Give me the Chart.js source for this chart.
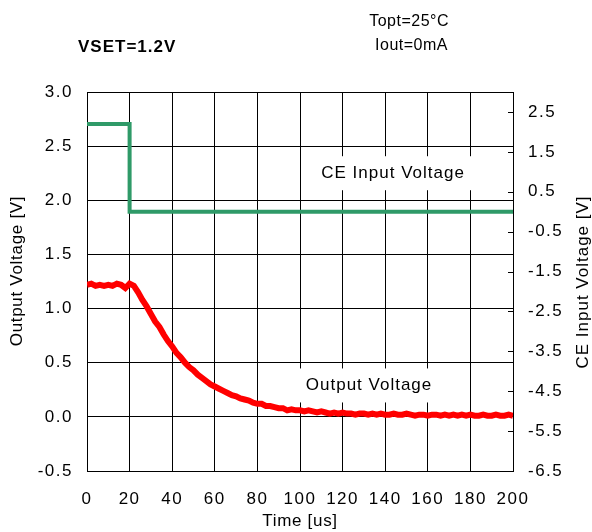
<!DOCTYPE html>
<html lang="en">
<head>
<meta charset="UTF-8">
<title>VSET=1.2V CE off</title>
<script src="https://cdn.jsdelivr.net/npm/chart.js@4.4.0/dist/chart.umd.min.js"></script>
<style>
  body { margin: 0; background: #fff; }
  #wrap { width: 592px; height: 532px; }
</style>
</head>
<body>
<div id="wrap"><canvas id="myChart" width="592" height="532"></canvas></div>
<script>
// time axis [us]
var timeUs = [0,2,4,6,8,10,12,14,16,18,20,22,24,26,28,30,32,34,36,38,
  40,42,44,46,48,50,52,54,56,58,60,62,64,66,68,70,72,74,76,78,
  80,82,84,86,88,90,92,94,96,98,100,102,104,106,108,110,112,114,116,118,
  120,122,124,126,128,130,132,134,136,138,140,142,144,146,148,150,152,154,156,158,
  160,162,164,166,168,170,172,174,176,178,180,182,184,186,188,190,192,194,196,198,200];

// output voltage [V], left axis
var outputV = [1.22,1.23,1.21,1.22,1.21,1.22,1.21,1.23,1.22,1.19,1.23,1.21,1.15,1.08,1.02,0.95,0.88,0.83,0.76,0.70,
  0.65,0.59,0.55,0.50,0.46,0.43,0.39,0.36,0.33,0.30,0.28,0.26,0.24,0.22,0.20,0.19,0.17,0.16,0.15,0.13,
  0.12,0.12,0.10,0.10,0.09,0.08,0.08,0.06,0.07,0.06,0.06,0.05,0.06,0.05,0.04,0.05,0.04,0.03,0.04,0.03,
  0.04,0.03,0.03,0.02,0.03,0.03,0.02,0.03,0.02,0.03,0.02,0.02,0.03,0.02,0.02,0.03,0.02,0.01,0.02,0.02,
  0.01,0.02,0.02,0.01,0.02,0.01,0.02,0.01,0.02,0.01,0.02,0.01,0.01,0.02,0.01,0.01,0.02,0.01,0.01,0.02,0.01];

// CE input voltage [V], right axis
var ceTimeUs = [0, 20, 20, 200];
var ceV = [2.2, 2.2, 0, 0];

// tick labels
var xTicks = [0,20,40,60,80,100,120,140,160,180,200];
var leftTicks = [-0.5,0,0.5,1.0,1.5,2.0,2.5,3.0];
var rightTicks = [-6.5,-5.5,-4.5,-3.5,-2.5,-1.5,-0.5,0.5,1.5,2.5];

function toPoints(xs, ys) {
  var pts = [];
  for (var i = 0; i < xs.length; i++) pts.push({x: xs[i], y: ys[i]});
  return pts;
}

var FONT = "'Liberation Sans', Arial, sans-serif";

// boxed labels and header text
var textPlugin = {
  id: 'texts',
  beforeDraw: function(chart) {
    // wider spacing for the tick labels
    chart.ctx.letterSpacing = '1.5px';
  },
  beforeDatasetsDraw: function(chart) {
    var ctx = chart.ctx, x = chart.scales.x, y = chart.scales.y;
    ctx.letterSpacing = '0px';
    var labels = [
      {text: 'CE Input Voltage', tx: 143.7, ty: 2.25, padX: 14, padY: 17},
      {text: 'Output Voltage', tx: 132.4, ty: 0.29, padX: 6, padY: 17}
    ];
    ctx.save();
    ctx.font = '17px ' + FONT;
    ctx.letterSpacing = '1px';
    ctx.textAlign = 'center';
    ctx.textBaseline = 'middle';
    labels.forEach(function(l) {
      var px = x.getPixelForValue(l.tx), py = y.getPixelForValue(l.ty);
      var w = ctx.measureText(l.text).width;
      ctx.fillStyle = '#fff';
      ctx.fillRect(px - w / 2 - l.padX, py - l.padY, w + 2 * l.padX, 2 * l.padY);
      ctx.fillStyle = '#000';
      ctx.fillText(l.text, px, py);
    });
    ctx.restore();
  },
  afterDraw: function(chart) {
    var ctx = chart.ctx, a = chart.chartArea, r = chart.scales.y2;
    ctx.save();
    // inward ticks on right axis
    ctx.strokeStyle = '#000';
    ctx.lineWidth = 1;
    r.ticks.forEach(function(t) {
      var py = Math.round(r.getPixelForValue(t.value)) + 0.5;
      ctx.beginPath();
      ctx.moveTo(a.right - 5, py);
      ctx.lineTo(a.right, py);
      ctx.stroke();
    });
    ctx.fillStyle = '#000';
    ctx.textBaseline = 'middle';
    ctx.font = 'bold 17px ' + FONT;
    ctx.letterSpacing = '1px';
    ctx.textAlign = 'left';
    ctx.fillText('VSET=1.2V', 78, 47);
    ctx.letterSpacing = '0.5px';
    ctx.font = '16px ' + FONT;
    ctx.textAlign = 'right';
    ctx.fillText('Topt=25\u00B0C', 449, 22);
    ctx.fillText('Iout=0mA', 448, 46);
    // axis titles
    ctx.textAlign = 'center';
    ctx.font = '17px ' + FONT;
    ctx.letterSpacing = '0.7px';
    ctx.fillText('Time [us]', (a.left + a.right) / 2, 521);
    ctx.save();
    ctx.translate(17, 271);
    ctx.rotate(-Math.PI / 2);
    ctx.fillText('Output Voltage [V]', 0, 0);
    ctx.restore();
    ctx.save();
    ctx.translate(583, 282);
    ctx.rotate(-Math.PI / 2);
    ctx.letterSpacing = '1px';
    ctx.fillText('CE Input Voltage [V]', 0, 0);
    ctx.restore();
    ctx.restore();
  }
};

var ctx = document.getElementById('myChart').getContext('2d');
var myChart = new Chart(ctx, {
  type: 'line',
  data: {
    datasets: [
      {
        label: 'CE Input Voltage',
        data: toPoints(ceTimeUs, ceV),
        yAxisID: 'y2',
        borderColor: '#2f9a68',
        borderWidth: 4,
        pointRadius: 0,
        fill: false
      },
      {
        label: 'Output Voltage',
        data: toPoints(timeUs, outputV),
        yAxisID: 'y',
        borderColor: '#ff0000',
        borderWidth: 6,
        pointRadius: 0,
        fill: false
      }
    ]
  },
  options: {
    responsive: false,
    animation: false,
    layout: { padding: { top: 92, left: 0, right: 0, bottom: 0 } },
    plugins: { legend: { display: false }, tooltip: { enabled: false } },
    scales: {
      x: {
        type: 'linear',
        min: 0, max: 200,
        afterFit: function(s) { s.height = 61; },
        afterBuildTicks: function(s) { s.ticks = xTicks.map(function(v) { return {value: v}; }); },
        grid: { color: '#000', lineWidth: 1, drawTicks: false },
        border: { color: '#000', width: 1 },
        ticks: { color: '#000', font: { family: FONT, size: 17 }, padding: 18, maxRotation: 0 }
      },
      y: {
        position: 'left',
        min: -0.5, max: 3.0,
        afterFit: function(s) { s.width = 87; },
        afterBuildTicks: function(s) { s.ticks = leftTicks.map(function(v) { return {value: v}; }); },
        grid: { color: '#000', lineWidth: 1, drawTicks: false },
        border: { color: '#000', width: 1 },
        ticks: {
          color: '#000', font: { family: FONT, size: 17 }, padding: 14,
          callback: function(v) { return v.toFixed(1); }
        }
      },
      y2: {
        position: 'right',
        min: -6.5, max: 3.0,
        afterFit: function(s) { s.width = 79; },
        afterBuildTicks: function(s) { s.ticks = rightTicks.map(function(v) { return {value: v}; }); },
        grid: { drawOnChartArea: false, drawTicks: false },
        border: { color: '#000', width: 1 },
        ticks: {
          color: '#000', font: { family: FONT, size: 17 }, padding: 15,
          callback: function(v) { return v.toFixed(1); }
        }
      }
    }
  },
  plugins: [textPlugin]
});
</script>
</body>
</html>
